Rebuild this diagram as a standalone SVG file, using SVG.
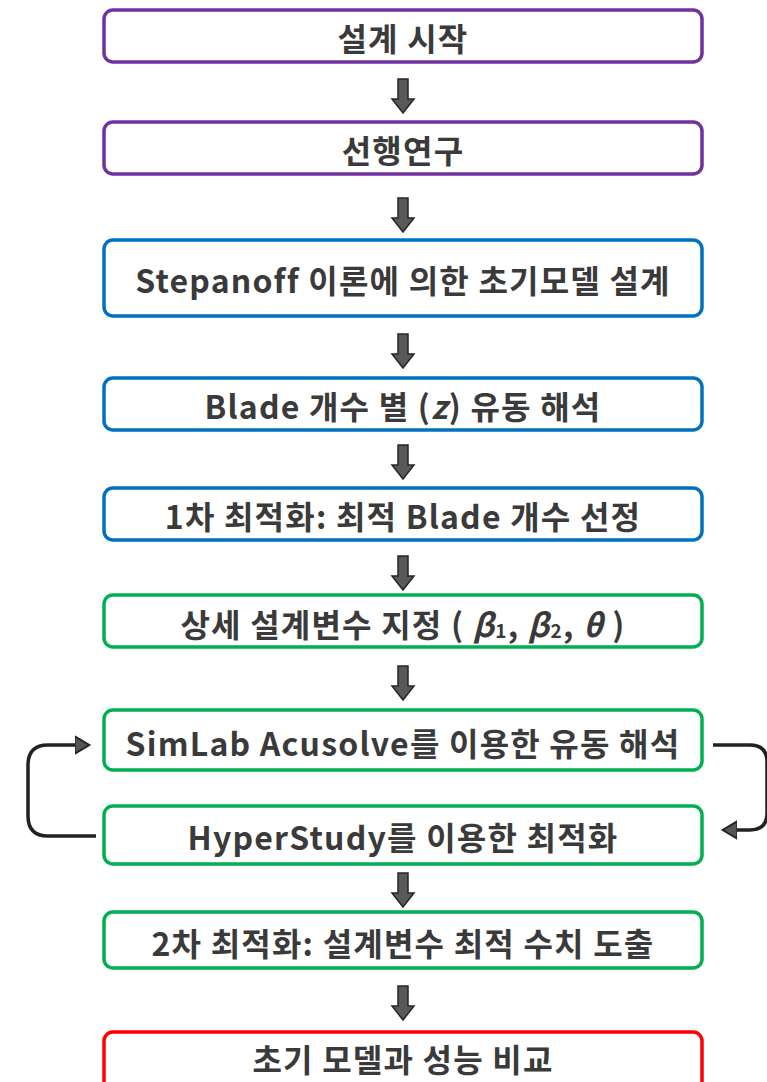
<svg xmlns="http://www.w3.org/2000/svg" width="767" height="1082" viewBox="0 0 767 1082">
<style>
.box{fill:#fff;stroke-width:3.5}
.p{stroke:#7030A0}.b{stroke:#0070C0}.g{stroke:#00B050}.r{stroke:#FF0000}
.t{font-family:"Noto Sans CJK KR","Noto Sans",sans-serif;font-weight:700;font-size:32px;letter-spacing:1.2px;fill:#3a3a3a;text-anchor:middle;dominant-baseline:central}
.i{font-style:italic}
.sub{font-size:19px}
.da{fill:#595959;stroke:#262626;stroke-width:1.5;stroke-linejoin:miter}
.loop{fill:none;stroke:#222;stroke-width:3.5}
</style>
<defs>
<marker id="ah" markerWidth="6" markerHeight="6" refX="3.2" refY="3" orient="auto" markerUnits="strokeWidth">
<path d="M0,0.5 L4.2,3 L0,5.5 Z" fill="#555" stroke="#222" stroke-width="0.5"/>
</marker>
<path id="darrow" d="M-5,0 H5 V20 H11 L0,34 L-11,20 H-5 Z"/>
</defs>

<g id="connectors">
<use href="#darrow" class="da" x="403" y="79"/>
<use href="#darrow" class="da" x="403" y="198"/>
<use href="#darrow" class="da" x="403" y="334"/>
<use href="#darrow" class="da" x="403" y="445"/>
<use href="#darrow" class="da" x="403" y="556"/>
<use href="#darrow" class="da" x="403" y="666"/>
<use href="#darrow" class="da" x="403" y="873"/>
<use href="#darrow" class="da" x="403" y="986"/>
<path class="loop" d="M96,836 H48 Q28,836 28,816 V765 Q28,745 48,745 H86" marker-end="url(#ah)"/>
<path class="loop" d="M713,745 H750 Q767,745 767,762 V813 Q767,830 750,830 H726" marker-end="url(#ah)"/>
</g>

<g id="n1"><rect class="box p" x="104" y="10" width="598" height="52" rx="9"/><text class="t" x="403" y="37">설계 시작</text></g>
<g id="n2"><rect class="box p" x="104" y="122" width="598" height="52" rx="9"/><text class="t" x="403" y="149">선행연구</text></g>
<g id="n3"><rect class="box b" x="104" y="240" width="598" height="76" rx="9"/><text class="t" x="403" y="279">Stepanoff 이론에 의한 초기모델 설계</text></g>
<g id="n4"><rect class="box b" x="104" y="378" width="598" height="52" rx="9"/><text class="t" x="403" y="405">Blade 개수 별 (<tspan class="i">z</tspan>) 유동 해석</text></g>
<g id="n5"><rect class="box b" x="104" y="488" width="598" height="52" rx="9"/><text class="t" x="403" y="515">1차 최적화: 최적 Blade 개수 선정</text></g>
<g id="n6"><rect class="box g" x="104" y="595" width="598" height="52" rx="9"/><text class="t" x="403" y="623">상세 설계변수 지정 ( <tspan class="i">β</tspan><tspan class="sub" dy="6">1</tspan><tspan dy="-6">, </tspan><tspan class="i">β</tspan><tspan class="sub" dy="6">2</tspan><tspan dy="-6">, </tspan><tspan class="i">θ</tspan> )</text></g>
<g id="n7"><rect class="box g" x="104" y="710" width="598" height="60" rx="9"/><text class="t" x="403" y="742">SimLab Acusolve를 이용한 유동 해석</text></g>
<g id="n8"><rect class="box g" x="104" y="806" width="598" height="58" rx="9"/><text class="t" x="403" y="836">HyperStudy를 이용한 최적화</text></g>
<g id="n9"><rect class="box g" x="104" y="912" width="598" height="56" rx="9"/><text class="t" x="403" y="942">2차 최적화: 설계변수 최적 수치 도출</text></g>
<g id="n10"><rect class="box r" x="104" y="1032" width="598" height="60" rx="9"/><text class="t" x="403" y="1058">초기 모델과 성능 비교</text></g>
</svg>
